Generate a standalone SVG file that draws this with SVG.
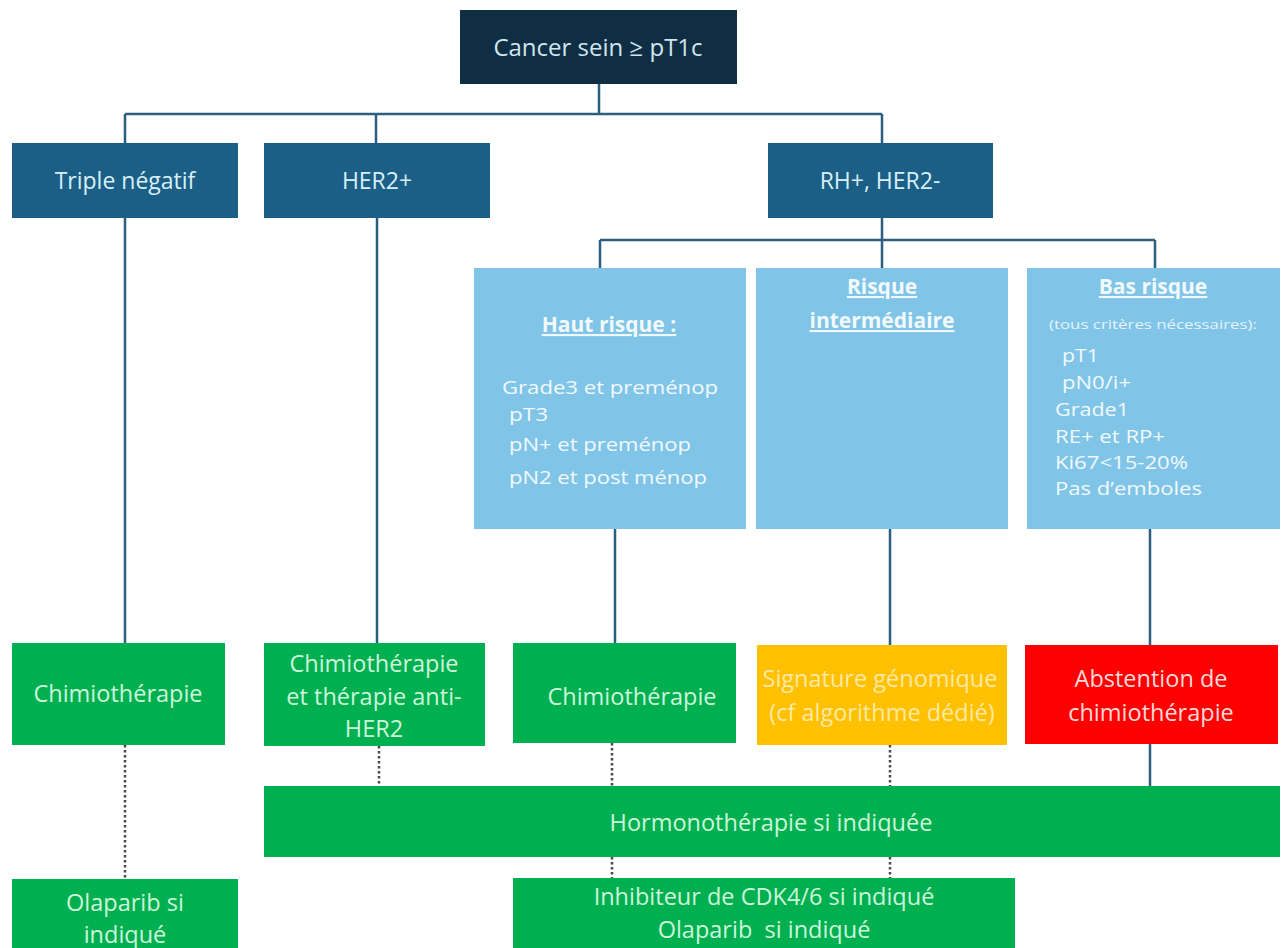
<svg xmlns="http://www.w3.org/2000/svg" width="1288" height="948" viewBox="0 0 1288 948">
  <style>
    .t { font-family: "Open Sans", "Lato", sans-serif; text-anchor: middle; }
    .tl { font-family: "Open Sans", "Lato", sans-serif; }
    .navy { fill: #0f2e44; }
    .blue { fill: #1b5f86; }
    .sky { fill: #80c5e7; }
    .green { fill: #00b050; }
    .yellow { fill: #ffc000; }
    .red { fill: #ff0000; }
    .tw-navy { fill: #cfe6ef; font-size: 24px; }
    .tw-blue { fill: #d8eff7; font-size: 23px; }
    .tw-sky { fill: #f2f9fd; font-size: 18.5px; }
    .tw-green { fill: #cdf6dc; font-size: 23.5px; }
    .tw-yellow { fill: #fde9a4; font-size: 23.5px; }
    .tw-red { fill: #ffd9d9; font-size: 23.5px; }
    .head { font-weight: bold; text-decoration: underline; font-size: 21px; }
    .solid { stroke: #2c5e80; stroke-width: 2.5; fill: none; }
    .dot { stroke: #4a4a4a; stroke-width: 2.5; stroke-dasharray: 2.5 2.5; fill: none; }
  </style>

  <rect width="1288" height="948" fill="#ffffff"/>

  <!-- connectors -->
  <g id="connectors">
    <path class="solid" d="M599 84 V114 M125 114 H882 M125 114 V143 M376 114 V143 M882 114 V143"/>
    <path class="solid" d="M125 218 V643 M377 218 V643"/>
    <path class="solid" d="M882 218 V240 M600 240 H1155 M600 240 V268 M882 240 V268 M1155 240 V268"/>
    <path class="solid" d="M615 529 V643 M890 529 V645 M1150 529 V645 M1150 744 V786"/>
    <path class="dot" d="M125 745 V879 M379 746 V786 M612 743 V786 M890 745 V786 M612 857 V878 M890 857 V878"/>
  </g>

  <g id="n-root">
    <rect class="navy" x="460" y="10" width="277" height="74"/>
    <text class="t tw-navy" x="598" y="56">Cancer sein ≥ pT1c</text>
  </g>

  <g id="n-triple">
    <rect class="blue" x="12" y="143" width="226" height="75"/>
    <text class="t tw-blue" x="125" y="189">Triple négatif</text>
  </g>
  <g id="n-her2">
    <rect class="blue" x="264" y="143" width="226" height="75"/>
    <text class="t tw-blue" x="377" y="189">HER2+</text>
  </g>
  <g id="n-rh">
    <rect class="blue" x="768" y="143" width="225" height="75"/>
    <text class="t tw-blue" x="880" y="189">RH+, HER2-</text>
  </g>

  <g id="n-haut">
    <rect class="sky" x="474" y="268" width="272" height="261"/>
    <text class="t tw-sky head" x="609" y="332">Haut risque :</text>
    <text class="tl tw-sky" x="502" y="394" textLength="216" lengthAdjust="spacingAndGlyphs">Grade3 et preménop</text>
    <text class="tl tw-sky" x="509" y="421" textLength="39" lengthAdjust="spacingAndGlyphs">pT3</text>
    <text class="tl tw-sky" x="509" y="451" textLength="182" lengthAdjust="spacingAndGlyphs">pN+ et preménop</text>
    <text class="tl tw-sky" x="509" y="484" textLength="198" lengthAdjust="spacingAndGlyphs">pN2 et post ménop</text>
  </g>
  <g id="n-inter">
    <rect class="sky" x="756" y="268" width="252" height="261"/>
    <text class="t tw-sky head" x="882" y="294">Risque</text>
    <text class="t tw-sky head" x="882" y="328">intermédiaire</text>
  </g>
  <g id="n-bas">
    <rect class="sky" x="1027" y="268" width="253" height="261"/>
    <text class="t tw-sky head" x="1153" y="294">Bas risque</text>
    <text class="t" x="1153" y="329" fill="#e4f3fb" font-size="12" textLength="208" lengthAdjust="spacingAndGlyphs">(tous critères nécessaires):</text>
    <text class="tl tw-sky" x="1062" y="362" textLength="37" lengthAdjust="spacingAndGlyphs">pT1</text>
    <text class="tl tw-sky" x="1062" y="389" textLength="69" lengthAdjust="spacingAndGlyphs">pN0/i+</text>
    <text class="tl tw-sky" x="1055" y="416" textLength="74" lengthAdjust="spacingAndGlyphs">Grade1</text>
    <text class="tl tw-sky" x="1055" y="443" textLength="110" lengthAdjust="spacingAndGlyphs">RE+ et RP+</text>
    <text class="tl tw-sky" x="1055" y="469" textLength="133" lengthAdjust="spacingAndGlyphs">Ki67&lt;15-20%</text>
    <text class="tl tw-sky" x="1055" y="495" textLength="147" lengthAdjust="spacingAndGlyphs">Pas d’emboles</text>
  </g>

  <g id="n-chimio-tn">
    <rect class="green" x="12" y="643" width="213" height="102"/>
    <text class="t tw-green" x="118" y="702">Chimiothérapie</text>
  </g>
  <g id="n-chimio-her2">
    <rect class="green" x="264" y="643" width="221" height="103"/>
    <text class="t tw-green" x="374" y="672">Chimiothérapie</text>
    <text class="t tw-green" x="374" y="705">et thérapie anti-</text>
    <text class="t tw-green" x="374" y="737">HER2</text>
  </g>
  <g id="n-chimio-haut">
    <rect class="green" x="513" y="643" width="223" height="100"/>
    <text class="t tw-green" x="632" y="705">Chimiothérapie</text>
  </g>
  <g id="n-signature">
    <rect class="yellow" x="757" y="645" width="250" height="100"/>
    <text class="t tw-yellow" x="880" y="687">Signature génomique</text>
    <text class="t tw-yellow" x="882" y="721">(cf algorithme dédié)</text>
  </g>
  <g id="n-abstention">
    <rect class="red" x="1025" y="645" width="253" height="99"/>
    <text class="t tw-red" x="1151" y="687">Abstention de</text>
    <text class="t tw-red" x="1151" y="721">chimiothérapie</text>
  </g>

  <g id="n-hormono">
    <rect class="green" x="264" y="786" width="1016" height="71"/>
    <text class="t tw-green" x="771" y="831">Hormonothérapie si indiquée</text>
  </g>

  <g id="n-olaparib">
    <rect class="green" x="12" y="879" width="226" height="80"/>
    <text class="t tw-green" x="125" y="911">Olaparib si</text>
    <text class="t tw-green" x="125" y="943">indiqué</text>
  </g>
  <g id="n-cdk">
    <rect class="green" x="513" y="878" width="502" height="80"/>
    <text class="t tw-green" x="764" y="905">Inhibiteur de CDK4/6 si indiqué</text>
    <text class="t tw-green" x="764" y="938" xml:space="preserve">Olaparib  si indiqué</text>
  </g>
</svg>
